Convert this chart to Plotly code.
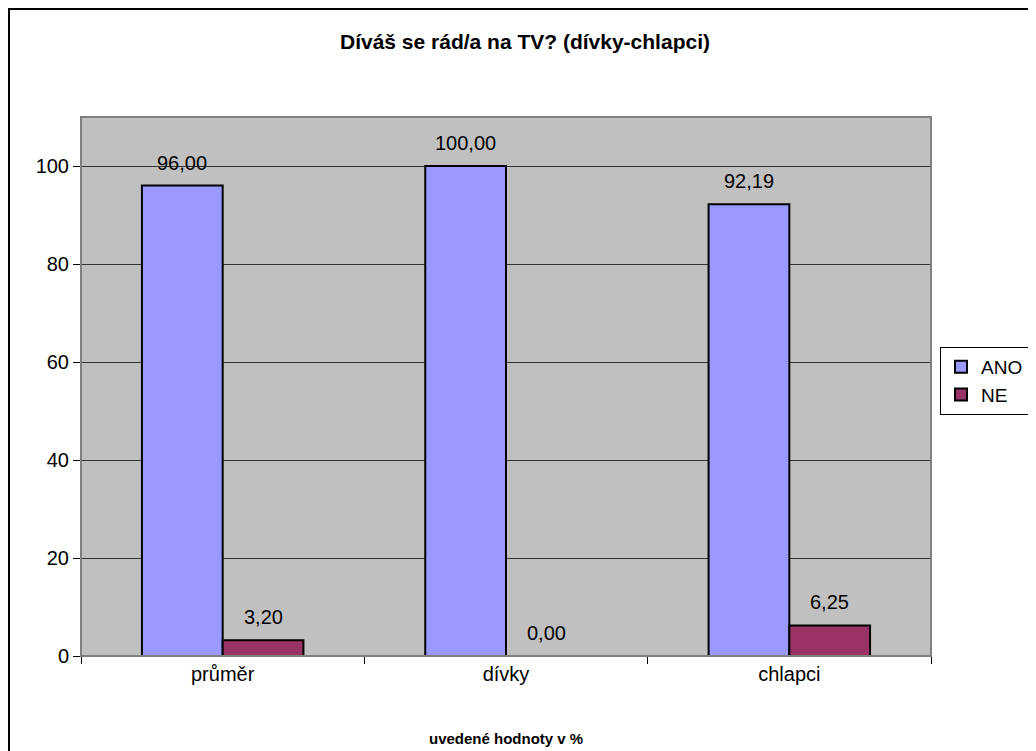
import plotly.graph_objects as go

categories = ["průměr", "dívky", "chlapci"]
ano = [96.00, 100.00, 92.19]
ne = [3.20, 0.00, 6.25]

FONT = "Arial, Liberation Sans, sans-serif"

fig = go.Figure()
fig.add_trace(go.Bar(
    name="ANO", x=categories, y=ano,
    marker=dict(color="#9999FF", line=dict(color="black", width=2)),
    textposition="none",
))
fig.add_trace(go.Bar(
    name="NE", x=categories, y=ne,
    marker=dict(color="#993366", line=dict(color="black", width=2)),
    textposition="none",
))

# value labels above bars (comma decimal)
for vals, xs in ((ano, -40.5), (ne, 40.5)):
    for c, v in zip(categories, vals):
        fig.add_annotation(x=c, y=v, xref="x", yref="y",
                           text=f"{v:.2f}".replace(".", ","),
                           showarrow=False, xshift=xs, yshift=23,
                           yanchor="middle",
                           font=dict(family=FONT, size=20, color="black"))

W, H = 1028, 743
L, T, PW, PH = 73, 109, 850, 539
fig.update_layout(
    width=W, height=H,
    margin=dict(l=L, r=W - L - PW, t=T, b=H - T - PH, autoexpand=False),
    paper_bgcolor="white", plot_bgcolor="#C0C0C0",
    barmode="group", bargap=0.43, bargroupgap=0,
    font=dict(family=FONT, size=20, color="black"),
    title=dict(text="<b>Díváš se rád/a na TV? (dívky-chlapci)</b>",
               x=517 / W, xref="container", xanchor="center",
               y=1 - 34 / H, yref="container", yanchor="middle",
               font=dict(family=FONT, size=21, color="black")),
    legend=dict(x=(940 - 8 - L) / PW, y=(656 - 347) / PH,
                xanchor="left", yanchor="top",
                bordercolor="black", borderwidth=1, bgcolor="white",
                font=dict(family=FONT, size=19, color="black"),
                traceorder="normal", itemwidth=30),
    showlegend=True,
)
fig.update_xaxes(
    type="category", tickson="boundaries", ticks="outside", ticklen=7,
    tickcolor="black", showline=True, linecolor="black", linewidth=1,
    showgrid=False, tickfont=dict(family=FONT, size=20, color="black"),
)
fig.update_yaxes(
    range=[0, 110], tickvals=[0, 20, 40, 60, 80, 100], ticks="outside",
    ticklen=7, tickcolor="black", showgrid=True, gridcolor="#333333",
    gridwidth=1, showline=False, zeroline=False,
    tickfont=dict(family=FONT, size=20, color="black"),
)

# plot area frame
fig.add_shape(type="rect", xref="paper", yref="paper", x0=0, x1=1, y0=0, y1=1,
              line=dict(color="#808080", width=2), layer="above")
# outer chart border (figure pixel 1 from the left/top edge)
fig.add_shape(type="rect", xref="paper", yref="paper",
              x0=(1 - L) / PW, x1=1.3, y0=-0.3, y1=(PH + T - 1) / PH,
              line=dict(color="black", width=2))
fig.add_annotation(text="<b>uvedené hodnoty v %</b>", xref="paper", yref="paper",
                   x=0.5, y=-(738 - 656) / PH, showarrow=False,
                   font=dict(family=FONT, size=15, color="black"),
                   yanchor="middle")

fig.write_html("out.html")
